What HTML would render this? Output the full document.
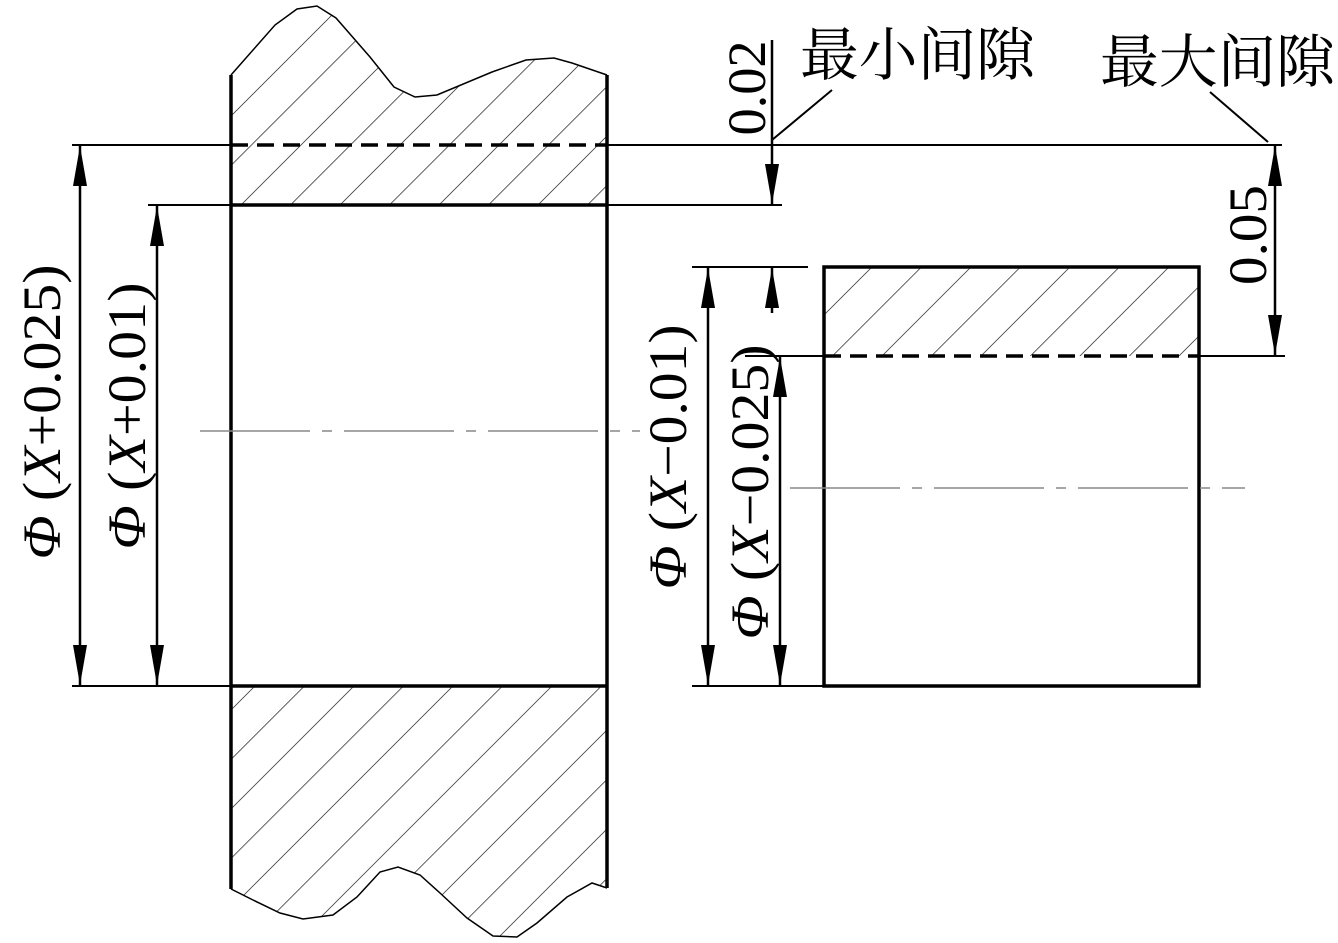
<!DOCTYPE html>
<html><head><meta charset="utf-8"><style>
html,body{margin:0;padding:0;background:#fff;}
svg{display:block;}
.t{font-family:"Liberation Serif","DejaVu Serif",serif;fill:#000;}
.c{font-family:"Noto Serif CJK SC","Noto Sans CJK SC",serif;fill:#000;}
</style></head><body>
<svg width="1338" height="943" viewBox="0 0 1338 943" xmlns="http://www.w3.org/2000/svg">
<defs>
<pattern id="h" patternUnits="userSpaceOnUse" width="35" height="35" patternTransform="rotate(45)">
<line x1="0" y1="0" x2="0" y2="35" stroke="#000" stroke-width="1.3"/>
</pattern>
<marker id="a" viewBox="0 0 40 14" refX="40" refY="7" markerWidth="40" markerHeight="14" markerUnits="userSpaceOnUse" orient="auto-start-reverse">
<path d="M0,0 L40,7 L0,14z" fill="#000"/>
</marker>
</defs>
<path d="M231,75 L275,25 L297,9 L317,6 L336,18 L370,57 L394,87 L415,97 L437,95 L492,72 L526,60 L554,58 L572,63 L607,75 L607,205 L231,205Z" fill="url(#h)"/>
<path d="M231,75 L275,25 L297,9 L317,6 L336,18 L370,57 L394,87 L415,97 L437,95 L492,72 L526,60 L554,58 L572,63 L607,75" fill="none" stroke="#000" stroke-width="1.5"/>
<path d="M231,686 L607,686 L607,888 L592,883 L567,897 L537,923 L517,937 L493,936 L467,918 L440,893 L420,875 L398,867 L380,872 L357,897 L333,915 L303,919 L280,913 L253,900 L231,889Z" fill="url(#h)"/>
<path d="M607,888 L592,883 L567,897 L537,923 L517,937 L493,936 L467,918 L440,893 L420,875 L398,867 L380,872 L357,897 L333,915 L303,919 L280,913 L253,900 L231,889" fill="none" stroke="#000" stroke-width="1.5"/>
<rect x="824" y="267" width="375" height="89" fill="url(#h)"/>
<g stroke="#000" fill="none">
<line x1="231" y1="75" x2="231" y2="889" stroke-width="3.5"/>
<line x1="607" y1="75" x2="607" y2="888" stroke-width="3.5"/>
<line x1="231" y1="205" x2="607" y2="205" stroke-width="3.5"/>
<line x1="148" y1="205" x2="231" y2="205" stroke-width="2"/>
<line x1="607" y1="205" x2="782" y2="205" stroke-width="2"/>
<line x1="231" y1="686" x2="607" y2="686" stroke-width="3.5"/>
<line x1="72" y1="686" x2="231" y2="686" stroke-width="2"/>
<line x1="72" y1="145" x2="231" y2="145" stroke-width="2"/>
<line x1="231" y1="145" x2="607" y2="145" stroke-width="3.5" stroke-dasharray="17,9"/>
<line x1="607" y1="145" x2="1282" y2="145" stroke-width="2"/>
<rect x="824" y="267" width="375" height="419" stroke-width="3.5"/>
<line x1="824" y1="356" x2="1199" y2="356" stroke-width="3.5" stroke-dasharray="17,9"/>
<line x1="745" y1="356" x2="824" y2="356" stroke-width="2"/>
<line x1="1199" y1="356" x2="1285" y2="356" stroke-width="2"/>
<line x1="692" y1="267" x2="808" y2="267" stroke-width="2"/>
<line x1="692" y1="686" x2="824" y2="686" stroke-width="2"/>
<line x1="80" y1="146" x2="80" y2="685" stroke-width="2.5" marker-start="url(#a)" marker-end="url(#a)"/>
<line x1="157" y1="206" x2="157" y2="685" stroke-width="2.5" marker-start="url(#a)" marker-end="url(#a)"/>
<line x1="708" y1="268" x2="708" y2="685" stroke-width="2.5" marker-start="url(#a)" marker-end="url(#a)"/>
<line x1="780" y1="357" x2="780" y2="685" stroke-width="2.5" marker-start="url(#a)" marker-end="url(#a)"/>
<line x1="1275" y1="146" x2="1275" y2="355" stroke-width="2.5" marker-start="url(#a)" marker-end="url(#a)"/>
<line x1="772" y1="40" x2="772" y2="204" stroke-width="2.5" marker-end="url(#a)"/>
<line x1="772" y1="313" x2="772" y2="268" stroke-width="2.5" marker-end="url(#a)"/>
<line x1="772" y1="140" x2="832" y2="90" stroke-width="2"/>
<line x1="1210" y1="92" x2="1268" y2="142" stroke-width="2"/>
<line x1="200" y1="431" x2="640" y2="431" stroke="#888" stroke-width="1.5" stroke-dasharray="110,12,10,12"/>
<line x1="790" y1="488" x2="1245" y2="488" stroke="#888" stroke-width="1.5" stroke-dasharray="110,12,10,12"/>
</g>
<g class="t" font-size="54">
<text transform="translate(60,412) rotate(-90)" text-anchor="middle" textLength="295" lengthAdjust="spacingAndGlyphs"><tspan font-style="italic">Φ</tspan> (<tspan font-style="italic">X</tspan>+0.025)</text>
<text transform="translate(145,416) rotate(-90)" text-anchor="middle" textLength="267" lengthAdjust="spacingAndGlyphs"><tspan font-style="italic">Φ</tspan> (<tspan font-style="italic">X</tspan>+0.01)</text>
<text transform="translate(686,457) rotate(-90)" text-anchor="middle" textLength="265" lengthAdjust="spacingAndGlyphs"><tspan font-style="italic">Φ</tspan> (<tspan font-style="italic">X</tspan>−0.01)</text>
<text transform="translate(768,492) rotate(-90)" text-anchor="middle" textLength="295" lengthAdjust="spacingAndGlyphs"><tspan font-style="italic">Φ</tspan> (<tspan font-style="italic">X</tspan>−0.025)</text>
<text transform="translate(765,88) rotate(-90)" text-anchor="middle" textLength="95" lengthAdjust="spacingAndGlyphs">0.02</text>
<text transform="translate(1266,235) rotate(-90)" text-anchor="middle" textLength="100" lengthAdjust="spacingAndGlyphs">0.05</text>
</g>
<text class="c" x="800" y="75" font-size="58" textLength="235" lengthAdjust="spacingAndGlyphs">最小间隙</text>
<text class="c" x="1100" y="82" font-size="58" textLength="235" lengthAdjust="spacingAndGlyphs">最大间隙</text>
</svg>
</body></html>
